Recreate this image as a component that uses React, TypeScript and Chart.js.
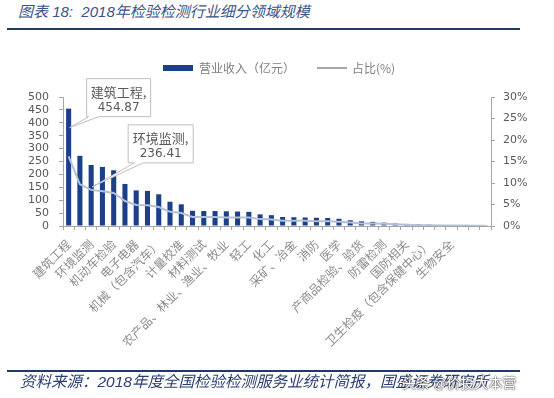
import React, { useEffect, useRef } from "react";
import { Chart, registerables } from "chart.js";

Chart.register(...registerables);

// Categories (only the ones in shownLabels are printed on the axis, as in the source)
const categories = [
  "建筑工程", "建筑材料", "环境监测", "食品", "机动车检验", "卫生计生", "电子电器", "医疗器械",
  "机械（包含汽车）", "电力", "计量校准", "水质", "材料测试", "纺织服装", "农产品、林业、渔业、牧业", "特种设备",
  "轻工", "石油", "化工", "建材", "采矿、冶金", "信息技术", "消防", "交通",
  "医学", "邮政", "产商品检验、验货", "安全生产", "防雷检测", "能源", "国防相关", "司法鉴定",
  "卫生检疫（包含保健中心）", "珠宝", "生物安全", "药品", "其他", "职业卫生",
];

const shownLabels = [
  "建筑工程", "环境监测", "机动车检验", "电子电器", "机械（包含汽车）", "计量校准", "材料测试",
  "农产品、林业、渔业、牧业", "轻工", "化工", "采矿、冶金", "消防", "医学", "产商品检验、验货",
  "防雷检测", "国防相关", "卫生检疫（包含保健中心）", "生物安全",
];

// 营业收入（亿元）
const revenue = [
  454.87, 272, 236.41, 229, 216, 163, 138, 136,
  123, 94, 84, 59, 58, 58, 57, 56,
  55, 45, 42, 35, 34, 33, 32, 31,
  28, 22, 18, 16, 13, 10, 8, 6,
  5, 4, 3, 2, 1.5, 1,
];

// 占比(%)
const share = [
  16.2, 9.7, 8.4, 8.1, 7.7, 5.8, 4.9, 4.8,
  4.4, 3.3, 3.0, 2.1, 2.1, 2.1, 2.0, 2.0,
  2.0, 1.6, 1.5, 1.2, 1.2, 1.2, 1.1, 1.1,
  1.0, 0.8, 0.6, 0.6, 0.5, 0.4, 0.3, 0.2,
  0.2, 0.1, 0.1, 0.1, 0.05, 0.04,
];

const leftMax = 500;
const leftStep = 50;
const rightMax = 30;
const rightStep = 5;

const callouts = [
  { index: 0, anchor: "bar", tipDy: 19, dx: 17, dy: -49, w: 64, h: 38, a1: 2, a2: 12 },
  { index: 2, anchor: "line", tipDy: -3, dx: 36, dy: -62, w: 65, h: 38, a1: 6, a2: 15 },
];

const BAR_COLOR = "#1b3f88";
const LINE_COLOR = "#b3c1d6";
const AXIS_COLOR = "#a6a6a6";
const NUM_COLOR = "#595959";
const CJK = "'Noto Sans CJK SC', sans-serif";
const NUM = "'DejaVu Sans', 'Noto Sans CJK SC', sans-serif";

const legendPlugin = {
  id: "customLegend",
  afterDraw(chart: any) {
    const ctx = chart.ctx;
    const ds = chart.data.datasets;
    ctx.save();
    const y = 68;
    ctx.fillStyle = BAR_COLOR;
    ctx.fillRect(163, y - 3, 30, 6);
    ctx.fillStyle = "#7f7f7f";
    ctx.font = `12px ${CJK}`;
    ctx.textBaseline = "middle";
    ctx.textAlign = "left";
    ctx.fillText(ds[1].label, 199, y);
    ctx.strokeStyle = "#a6a6a6";
    ctx.lineWidth = 2;
    ctx.beginPath();
    ctx.moveTo(317, y);
    ctx.lineTo(347, y);
    ctx.stroke();
    ctx.fillText(ds[0].label, 352, y);
    ctx.restore();
  },
};

const calloutPlugin = {
  id: "callouts",
  afterDatasetsDraw(chart: any) {
    const ctx = chart.ctx;
    const xs = chart.scales.x;
    const ys = chart.scales.y;
    const y1 = chart.scales.y1;
    ctx.save();
    callouts.forEach((c) => {
      const tx = xs.getPixelForValue(c.index) + 1;
      const ty =
        (c.anchor === "bar" ? ys.getPixelForValue(revenue[c.index]) : y1.getPixelForValue(share[c.index])) + c.tipDy;
      const bx = tx + c.dx;
      const by = ty + c.dy;
      ctx.beginPath();
      ctx.moveTo(bx, by);
      ctx.lineTo(bx + c.w, by);
      ctx.lineTo(bx + c.w, by + c.h);
      ctx.lineTo(bx + c.a2, by + c.h);
      ctx.lineTo(tx, ty);
      ctx.lineTo(bx + c.a1, by + c.h);
      ctx.lineTo(bx, by + c.h);
      ctx.closePath();
      ctx.fillStyle = "#ffffff";
      ctx.fill();
      ctx.strokeStyle = "#bfbfbf";
      ctx.lineWidth = 1;
      ctx.stroke();
      ctx.fillStyle = NUM_COLOR;
      ctx.textAlign = "center";
      ctx.textBaseline = "middle";
      ctx.font = `13px ${CJK}`;
      ctx.fillText(categories[c.index] + ",", bx + c.w / 2, by + 13);
      ctx.font = `12px ${NUM}`;
      ctx.fillText(revenue[c.index].toFixed(2), bx + c.w / 2, by + 29);
    });
    ctx.restore();
  },
};

export default function App() {
  const ref = useRef<HTMLCanvasElement | null>(null);

  useEffect(() => {
    if (!ref.current) return;
    const chart = new Chart(ref.current, {
      type: "bar",
      data: {
        labels: categories,
        datasets: [
          {
            type: "line",
            label: "占比(%)",
            data: share,
            yAxisID: "y1",
            borderColor: LINE_COLOR,
            borderWidth: 2,
            pointRadius: 0,
            tension: 0,
            order: 0,
          } as any,
          {
            type: "bar",
            label: "营业收入（亿元）",
            data: revenue,
            yAxisID: "y",
            backgroundColor: BAR_COLOR,
            categoryPercentage: 1,
            barPercentage: 0.45,
            order: 1,
          },
        ],
      },
      options: {
        responsive: false,
        animation: false,
        devicePixelRatio: 1,
        layout: { padding: { top: 97, left: 0, right: 0, bottom: 0 } },
        plugins: { legend: { display: false }, tooltip: { enabled: false } },
        scales: {
          x: {
            offset: true,
            grid: {
              display: true,
              drawOnChartArea: false,
              drawTicks: true,
              tickLength: 4,
              color: AXIS_COLOR,
              offset: true,
            },
            border: { display: true, color: AXIS_COLOR },
            ticks: {
              autoSkip: false,
              minRotation: 45,
              maxRotation: 45,
              padding: 7,
              color: "#8c8c8c",
              font: { size: 12, family: CJK },
              callback: (_v: any, i: number) => (shownLabels.includes(categories[i]) ? categories[i] : ""),
            },
            afterFit: (s: any) => {
              s.height = 172;
            },
          },
          y: {
            position: "left",
            min: 0,
            max: leftMax,
            grid: { drawOnChartArea: false, tickLength: 4, color: AXIS_COLOR },
            border: { display: true, color: AXIS_COLOR },
            ticks: {
              autoSkip: false,
              stepSize: leftStep,
              padding: 10,
              color: NUM_COLOR,
              font: { size: 11, family: NUM },
            },
            afterFit: (s: any) => {
              s.width = 63;
            },
          },
          y1: {
            position: "right",
            min: 0,
            max: rightMax,
            grid: { drawOnChartArea: false, tickLength: 4, color: AXIS_COLOR },
            border: { display: true, color: AXIS_COLOR },
            ticks: {
              autoSkip: false,
              stepSize: rightStep,
              padding: 8,
              color: NUM_COLOR,
              font: { size: 11, family: NUM },
              callback: (v: any) => `${v}%`,
            },
            afterFit: (s: any) => {
              s.width = 63;
            },
          },
        },
      },
      plugins: [legendPlugin, calloutPlugin],
    });
    return () => chart.destroy();
  }, []);

  return (
    <div
      style={{
        position: "fixed",
        left: 0,
        top: 0,
        width: 554,
        height: 398,
        background: "#ffffff",
        overflow: "hidden",
      }}
    >
      <div
        style={{
          position: "absolute",
          left: 18,
          top: 1,
          fontFamily: "'Liberation Sans', 'Noto Sans CJK SC', sans-serif",
          fontStyle: "italic",
          fontSize: 15,
          lineHeight: "22px",
          color: "#3b5487",
          whiteSpace: "nowrap",
        }}
      >
        图表 18:&nbsp; 2018年检验检测行业细分领域规模
      </div>
      <div style={{ position: "absolute", left: 7, top: 28, width: 513, height: 2, background: "#1f3a68" }} />
      <canvas ref={ref} width={554} height={398} style={{ position: "absolute", left: 0, top: 0 }} />
      <div style={{ position: "absolute", left: 7, top: 370, width: 513, height: 2, background: "#1f3a68" }} />
      <div
        style={{
          position: "absolute",
          left: 20,
          top: 371,
          fontFamily: "'Liberation Sans', 'Noto Sans CJK SC', sans-serif",
          fontStyle: "italic",
          fontSize: 15.5,
          lineHeight: "22px",
          color: "#2b3f73",
          whiteSpace: "nowrap",
        }}
      >
        资料来源：2018年度全国检验检测服务业统计简报，国盛证券研究所
      </div>
      <div
        style={{
          position: "absolute",
          left: 402,
          top: 372,
          fontFamily: CJK,
          fontSize: 14,
          lineHeight: "20px",
          color: "#ffffff",
          textShadow: "0 0 2px #333, 0 0 1px #333",
          whiteSpace: "nowrap",
        }}
      >
        头条 @价投大本营
      </div>
    </div>
  );
}
